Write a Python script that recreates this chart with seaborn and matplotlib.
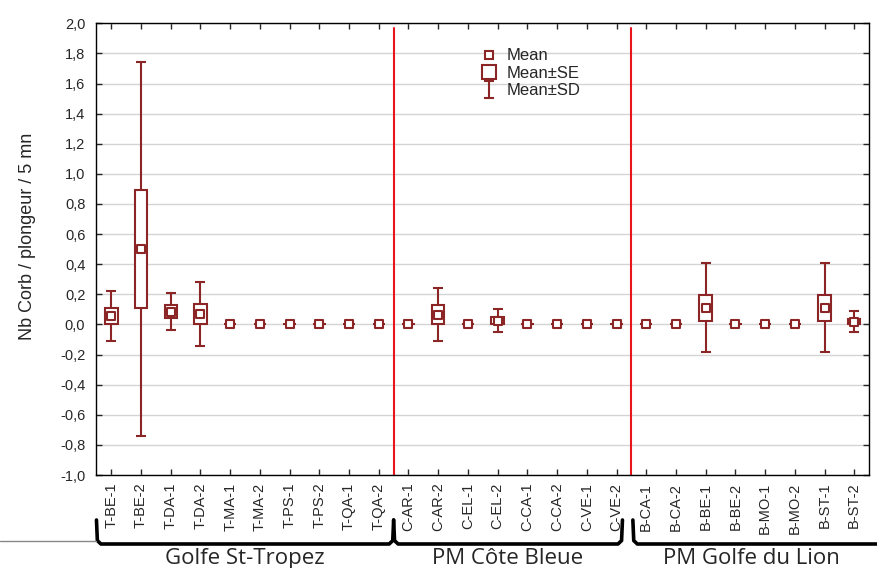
import matplotlib
matplotlib.use("Agg")
import matplotlib.pyplot as plt
import matplotlib.transforms as mtransforms
from matplotlib.lines import Line2D
import numpy as np
import seaborn as sns

# sites, mean, standard error and standard deviation
sites = ['T-BE-1', 'T-BE-2', 'T-DA-1', 'T-DA-2', 'T-MA-1', 'T-MA-2', 'T-PS-1', 'T-PS-2', 'T-QA-1', 'T-QA-2',
         'C-AR-1', 'C-AR-2', 'C-EL-1', 'C-EL-2', 'C-CA-1', 'C-CA-2', 'C-VE-1', 'C-VE-2',
         'B-CA-1', 'B-CA-2', 'B-BE-1', 'B-BE-2', 'B-MO-1', 'B-MO-2', 'B-ST-1', 'B-ST-2']
means = [0.057, 0.501, 0.085, 0.068, 0, 0, 0, 0, 0, 0,
         0, 0.064, 0, 0.026, 0, 0, 0, 0,
         0, 0, 0.111, 0, 0, 0, 0.111, 0.019]
se = [0.053, 0.393, 0.041, 0.066, 0, 0, 0, 0, 0, 0,
      0, 0.063, 0, 0.026, 0, 0, 0, 0,
      0, 0, 0.086, 0, 0, 0, 0.086, 0.018]
sd = [0.167, 1.245, 0.125, 0.212, 0, 0, 0, 0, 0, 0,
      0, 0.175, 0, 0.078, 0, 0, 0, 0,
      0, 0, 0.294, 0, 0, 0, 0.294, 0.071]
groups = ['Golfe St-Tropez', 'PM Côte Bleue', 'PM Golfe du Lion']
group_sizes = [10, 8, 8]
yticks = [-1.0, -0.8, -0.6, -0.4, -0.2, 0.0, 0.2, 0.4, 0.6, 0.8, 1.0, 1.2, 1.4, 1.6, 1.8, 2.0]

col = '#8c2626'
red = '#e8161c'

sns.set_style("white")
plt.rcParams['font.family'] = ['Liberation Sans', 'DejaVu Sans']

x = np.arange(len(sites))
m = np.array(means)
s = np.array(se)

fig = plt.figure(figsize=(8.77, 5.68), dpi=100)
ax = fig.add_axes([0.110, 0.1637, 0.881, 0.7953])

ax.errorbar(x, m, yerr=sd, fmt='none', ecolor=col, elinewidth=1.5, capsize=3.5, capthick=1.5,
            zorder=3, label='Mean±SD')
ax.bar(x, 2 * s, bottom=m - s, width=0.42, facecolor='white', edgecolor=col, linewidth=1.5, zorder=4)
sns.scatterplot(x=x, y=m, ax=ax, marker='s', s=38, facecolor='white', edgecolor=col,
                linewidth=1.5, zorder=5, legend=False)

# separators between areas
cuts = np.cumsum(group_sizes)[:-1] - 0.5
for c in cuts:
    ax.axvline(c, ymin=0, ymax=0.99, color=red, lw=1.5, zorder=2)

ax.set_xlim(-0.5, len(sites) - 0.5)
ax.set_ylim(-1.0, 2.0)
ax.set_yticks(yticks)
ax.set_yticklabels([f"{v + 0.0:.1f}".replace('.', ',') for v in yticks], fontsize=10.5)
ax.set_xticks(x)
ax.set_xticklabels(sites, rotation=90, fontsize=10.5)
ax.tick_params(axis='x', direction='in', length=4, top=True, bottom=True, pad=5.5, width=1)
ax.tick_params(axis='y', direction='in', length=4, left=True, right=True, pad=8, width=1)
ax.yaxis.grid(True, color='#d4d4d4', lw=1)
ax.set_axisbelow(True)
for sp in ax.spines.values():
    sp.set_color('black')
    sp.set_linewidth(1)

ax.set_ylabel('Nb Corb / plongeur / 5 mn', fontsize=13,
              family=['Liberation Sans Narrow', 'Liberation Sans', 'DejaVu Sans'])
ax.yaxis.set_label_coords(-0.078, 0.528)

h_mean = Line2D([], [], marker='s', ms=5.5, mfc='white', mec=col, mew=1.5, ls='none')
h_se = Line2D([], [], marker='s', ms=9.5, mfc='white', mec=col, mew=1.5, ls='none')
eb = ax.containers[0]
ax.legend([h_mean, h_se, eb], ['Mean', 'Mean±SE', 'Mean±SD'], loc='upper left',
          bbox_to_anchor=(0.486, 0.963), frameon=False, fontsize=12, borderpad=0,
          handlelength=1.1, handletextpad=0.5, labelspacing=0.15)

# group braces under the tick labels
tr = mtransforms.blended_transform_factory(ax.transData, fig.transFigure)
ytop = 1 - 520 / 568
ybot = 1 - 544 / 568
starts = [-0.5, 9.5, 17.55]
ends = [9.5, 17.2, 26.2]
for i, (a, b) in enumerate(zip(starts, ends)):
    xs = [a, a + 0.03, a + 0.15, b - 0.15, b - 0.03, b]
    ys = [ytop, ybot + 0.006, ybot, ybot, ybot + 0.006, ytop]
    fig.add_artist(Line2D(xs, ys, transform=tr, color='black', lw=2.6, solid_joinstyle='round'))
    xc = (a + min(b, len(sites) - 0.5)) / 2
    fig.text(xc, 1 - 564 / 568, groups[i], transform=tr, ha='center', va='baseline',
             fontsize=16, family=['Open Sans', 'DejaVu Sans'])
fig.add_artist(Line2D([0, 96 / 877], [1 - 541 / 568, 1 - 541 / 568], transform=fig.transFigure,
                      color='#888888', lw=1))

fig.savefig('out.png', dpi=100)
